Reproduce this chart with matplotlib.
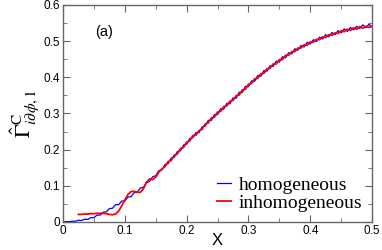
import numpy as np
import matplotlib
matplotlib.use("Agg")
import matplotlib.pyplot as plt
from matplotlib.ticker import MultipleLocator, FuncFormatter

# homogeneous curve, sampled every 0.005 from 0 to 0.5
x_hom = np.round(np.arange(0, 0.5001, 0.005), 3)
y_hom = [
    0.000, 0.001, 0.001, 0.002, 0.002, 0.005, 0.004, 0.008, 0.007, 0.012,
    0.012, 0.019, 0.019, 0.027, 0.028, 0.037, 0.038, 0.048, 0.048, 0.058,
    0.058, 0.069, 0.070, 0.081, 0.082, 0.094, 0.096, 0.109, 0.112, 0.125,
    0.128, 0.142, 0.144, 0.159, 0.161, 0.177, 0.179, 0.195, 0.197, 0.213,
    0.215, 0.231, 0.233, 0.247, 0.247, 0.263, 0.265, 0.281, 0.281, 0.297,
    0.297, 0.313, 0.312, 0.328, 0.327, 0.343, 0.342, 0.359, 0.358, 0.375,
    0.374, 0.390, 0.389, 0.405, 0.403, 0.419, 0.417, 0.432, 0.430, 0.445,
    0.442, 0.457, 0.454, 0.468, 0.465, 0.479, 0.475, 0.488, 0.484, 0.497,
    0.492, 0.504, 0.499, 0.511, 0.506, 0.518, 0.512, 0.524, 0.518, 0.529,
    0.523, 0.534, 0.527, 0.538, 0.531, 0.541, 0.535, 0.545, 0.537, 0.547,
    0.539,
]

# inhomogeneous curve, sampled every 0.005 from 0.025 to 0.5
x_inh = np.round(np.arange(0.025, 0.5001, 0.005), 3)
y_inh = [
    0.021, 0.021, 0.022, 0.022, 0.023, 0.023, 0.024, 0.024, 0.024, 0.023,
    0.021, 0.020, 0.022, 0.030, 0.045, 0.061, 0.076, 0.084, 0.085, 0.082,
    0.082, 0.092, 0.110, 0.119, 0.117, 0.124, 0.138, 0.147, 0.153, 0.167,
    0.170, 0.185, 0.188, 0.203, 0.206, 0.221, 0.224, 0.239, 0.240, 0.253,
    0.256, 0.271, 0.274, 0.288, 0.290, 0.304, 0.306, 0.319, 0.321, 0.334,
    0.336, 0.349, 0.351, 0.365, 0.367, 0.381, 0.383, 0.396, 0.397, 0.410,
    0.411, 0.424, 0.425, 0.437, 0.437, 0.449, 0.449, 0.461, 0.461, 0.471,
    0.471, 0.481, 0.481, 0.490, 0.489, 0.498, 0.497, 0.505, 0.504, 0.512,
    0.510, 0.518, 0.516, 0.523, 0.521, 0.529, 0.526, 0.533, 0.530, 0.537,
    0.533, 0.540, 0.536, 0.541, 0.538, 0.541,
]

labels = ["homogeneous", "inhomogeneous"]

plt.rcParams["font.family"] = ["Liberation Sans", "DejaVu Sans"]
plt.rcParams["mathtext.fontset"] = "stix"

fig = plt.figure(figsize=(3.82, 2.5), dpi=100)
ax = fig.add_axes([0.165, 0.112, 0.809, 0.868])

ax.plot(x_hom, y_hom, color="#0000ff", lw=0.9, label=labels[0])
ax.plot(x_inh, y_inh, color="#ff0000", lw=1.3, label=labels[1])

ax.set_xlim(0, 0.5)
ax.set_ylim(0, 0.6)
ax.xaxis.set_major_locator(MultipleLocator(0.1))
ax.xaxis.set_minor_locator(MultipleLocator(0.05))
ax.yaxis.set_major_locator(MultipleLocator(0.1))
ax.yaxis.set_minor_locator(MultipleLocator(0.05))
fmt = FuncFormatter(lambda v, p: "0" if abs(v) < 1e-9 else f"{v:g}")
ax.xaxis.set_major_formatter(fmt)
ax.yaxis.set_major_formatter(fmt)

grey = "#666666"
for s in ax.spines.values():
    s.set_color(grey)
    s.set_linewidth(1.0)
ax.tick_params(which="both", direction="in", top=True, right=True,
               color=grey, labelsize=8.5, pad=2)
ax.tick_params(which="major", length=5)
ax.tick_params(which="minor", length=3)

ax.set_xlabel("X", fontsize=12, labelpad=-3)
ax.set_ylabel(r"$\hat{\Gamma}^{\mathrm{C}}_{i\partial\phi,1}$", fontsize=16,
              labelpad=2)

ax.text(0.103, 0.876, "(a)", transform=ax.transAxes, fontsize=10.5,
        va="center", ha="left")

leg = ax.legend(loc="lower right", frameon=False, borderaxespad=0.1,
                handlelength=0.7, handletextpad=0.4, labelspacing=0.05,
                prop={"family": "Liberation Serif", "size": 14})

fig.savefig("out.png", dpi=100)
